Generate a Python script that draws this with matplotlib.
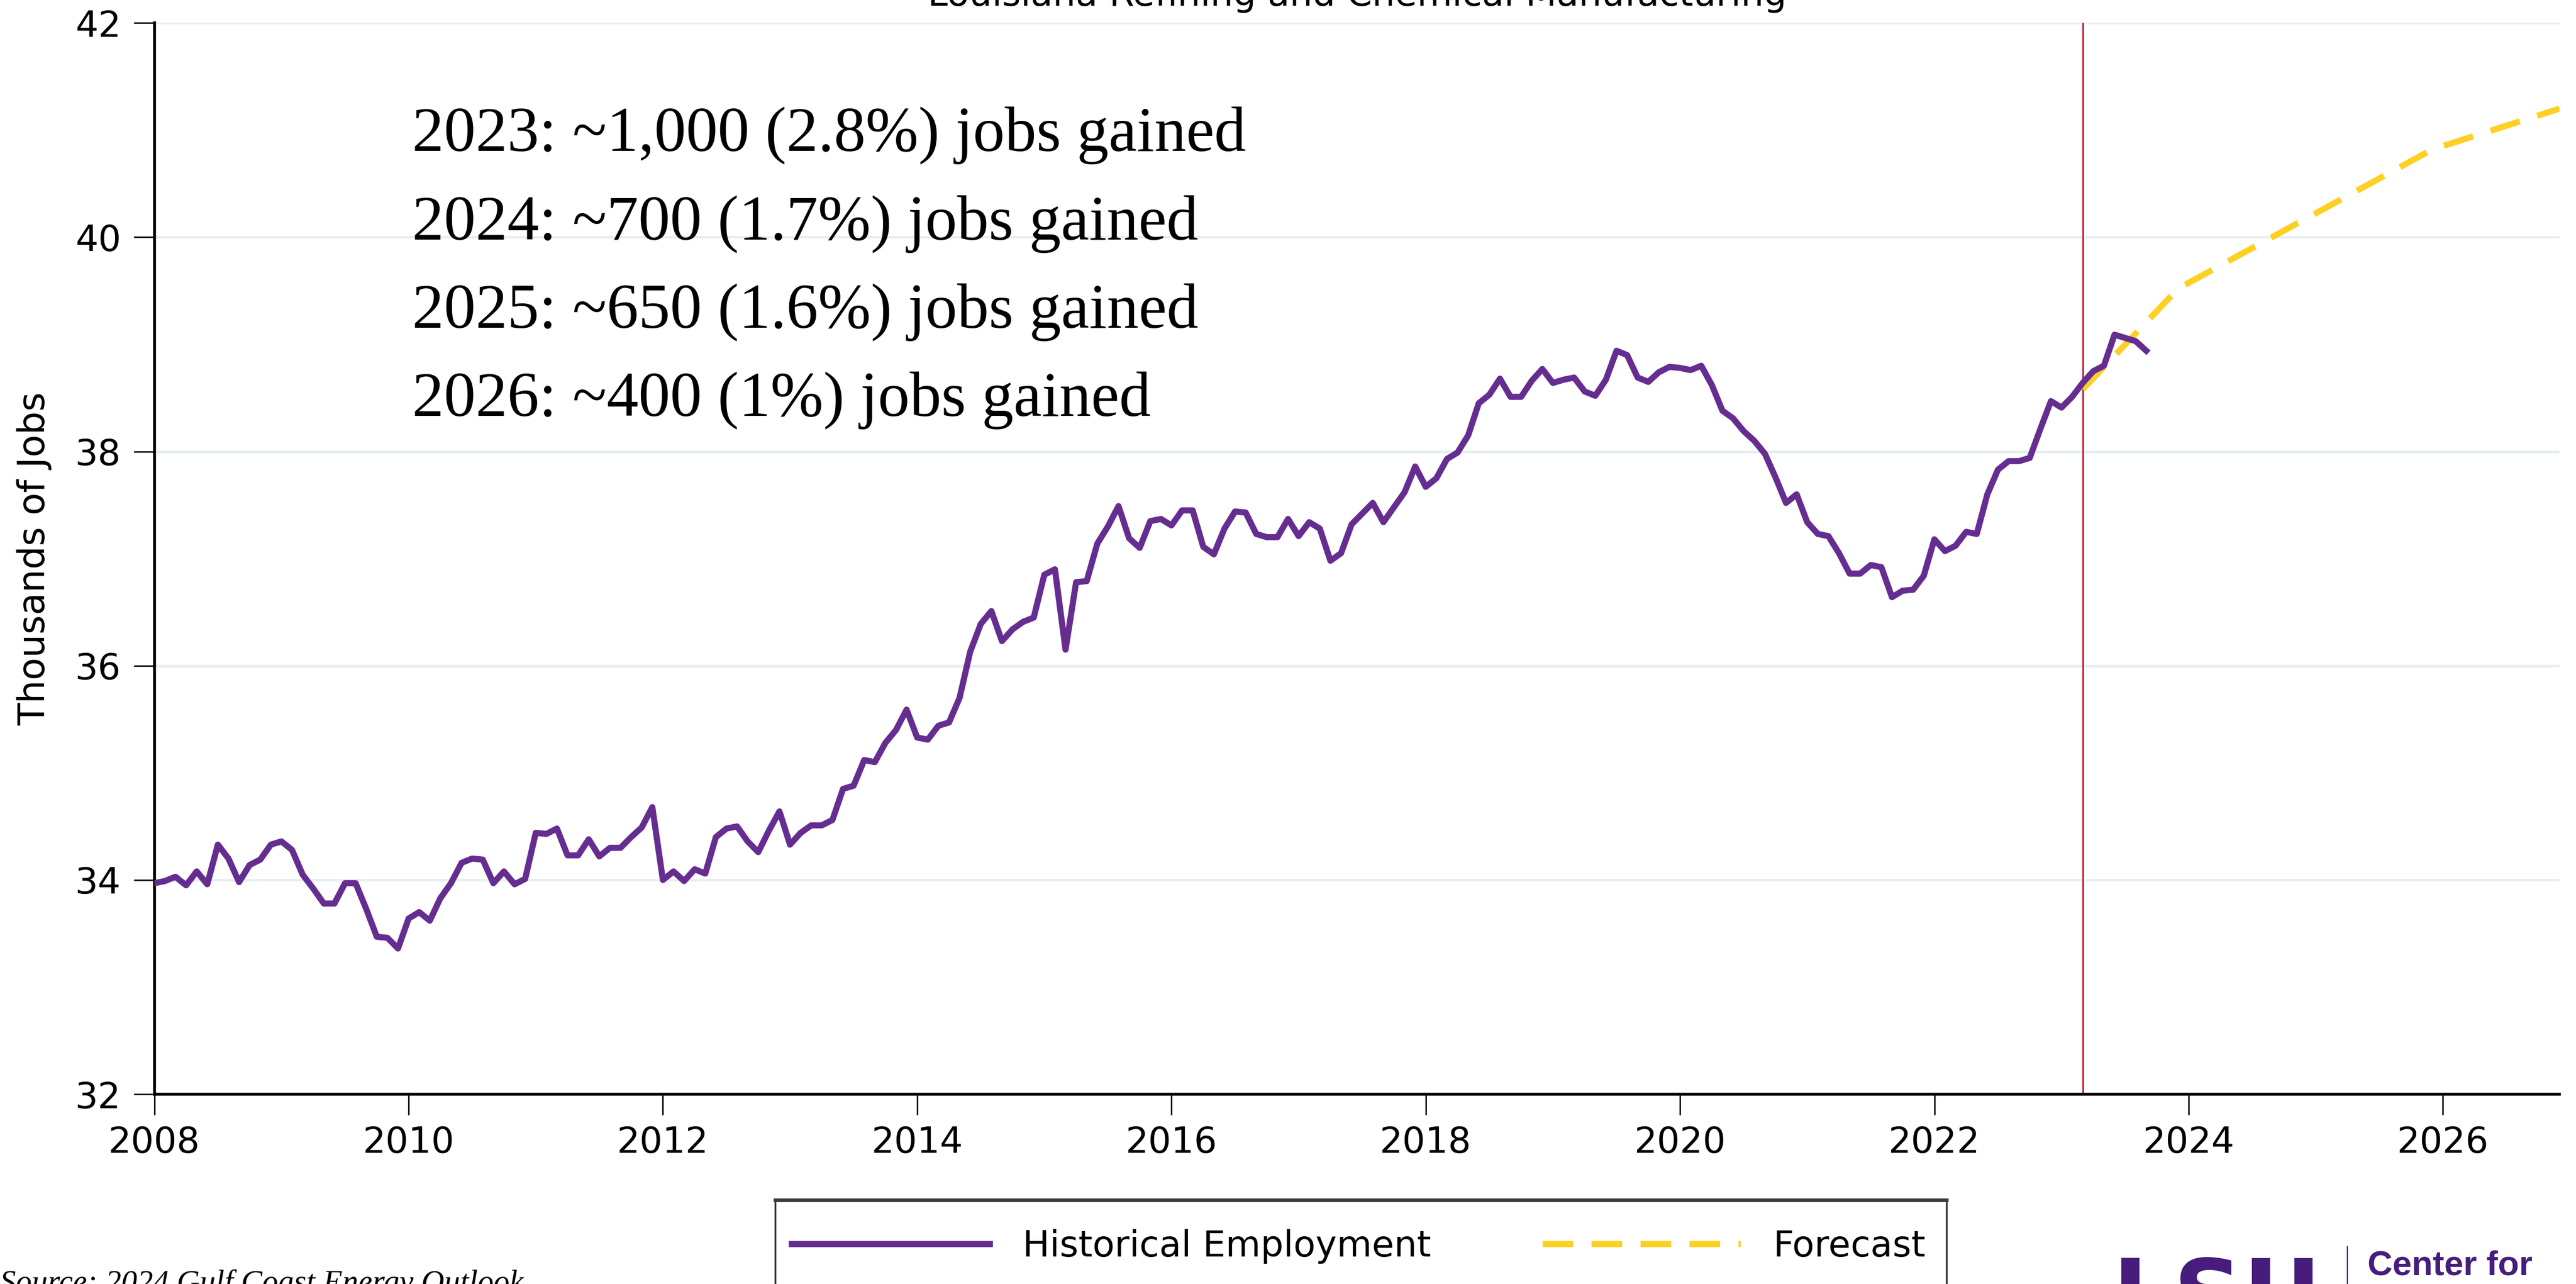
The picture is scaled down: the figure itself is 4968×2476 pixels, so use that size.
import numpy as np
import matplotlib
matplotlib.use("Agg")
import matplotlib.pyplot as plt
from matplotlib.lines import Line2D
from matplotlib.patches import Rectangle

# monthly historical employment (thousands), Jan 2008 - Sep 2023
emp_2008 = [33.97, 33.99, 34.03, 33.95, 34.08, 33.96, 34.33, 34.20, 33.98, 34.14, 34.19, 34.33]
emp_2009 = [34.36, 34.28, 34.05, 33.92, 33.78, 33.78, 33.97, 33.97, 33.73, 33.47, 33.46, 33.36]
emp_2010 = [33.64, 33.70, 33.62, 33.83, 33.97, 34.16, 34.20, 34.19, 33.97, 34.08, 33.96, 34.01]
emp_2011 = [34.44, 34.43, 34.48, 34.23, 34.23, 34.38, 34.22, 34.30, 34.30, 34.40, 34.49, 34.68]
emp_2012 = [34.00, 34.08, 33.99, 34.10, 34.06, 34.40, 34.48, 34.50, 34.36, 34.26, 34.46, 34.64]
emp_2013 = [34.33, 34.44, 34.51, 34.51, 34.56, 34.85, 34.88, 35.12, 35.10, 35.28, 35.40, 35.59]
emp_2014 = [35.33, 35.31, 35.44, 35.47, 35.70, 36.13, 36.39, 36.51, 36.23, 36.34, 36.41, 36.45]
emp_2015 = [36.85, 36.90, 36.15, 36.78, 36.79, 37.14, 37.30, 37.49, 37.19, 37.10, 37.35, 37.37]
emp_2016 = [37.31, 37.45, 37.45, 37.11, 37.04, 37.28, 37.44, 37.43, 37.23, 37.20, 37.20, 37.37]
emp_2017 = [37.21, 37.34, 37.28, 36.98, 37.05, 37.32, 37.42, 37.52, 37.34, 37.48, 37.62, 37.86]
emp_2018 = [37.67, 37.75, 37.93, 37.99, 38.15, 38.45, 38.53, 38.68, 38.51, 38.51, 38.66, 38.77]
emp_2019 = [38.64, 38.67, 38.69, 38.56, 38.52, 38.67, 38.94, 38.90, 38.69, 38.65, 38.74, 38.79]
emp_2020 = [38.78, 38.76, 38.80, 38.62, 38.38, 38.31, 38.19, 38.10, 37.98, 37.76, 37.52, 37.60]
emp_2021 = [37.34, 37.23, 37.21, 37.05, 36.86, 36.86, 36.94, 36.92, 36.64, 36.70, 36.71, 36.84]
emp_2022 = [37.18, 37.07, 37.12, 37.25, 37.23, 37.60, 37.83, 37.91, 37.91, 37.94, 38.21, 38.47]
emp_2023 = [38.41, 38.51, 38.64, 38.75, 38.80, 39.09, 39.06, 39.03, 38.94]

# forecast points (year, month) and values
fcst_months = [(2023, 3), (2023, 12), (2024, 12), (2025, 12), (2026, 12)]
fcst_values = [38.58, 39.52, 40.17, 40.82, 41.20]

forecast_start = (2023, 3)

notes = ["2023: ~1,000 (2.8%) jobs gained",
         "2024: ~700 (1.7%) jobs gained",
         "2025: ~650 (1.6%) jobs gained",
         "2026: ~400 (1%) jobs gained"]

x_ticks = [2008, 2010, 2012, 2014, 2016, 2018, 2020, 2022, 2024, 2026]
y_ticks = [32, 34, 36, 38, 40, 42]

purple = '#662D91'
gold = '#FDD023'
lsu_purple = '#461D7C'


def to_year(y, m):
    return y + (m - 1) / 12.0


hist = (emp_2008 + emp_2009 + emp_2010 + emp_2011 + emp_2012 + emp_2013 + emp_2014 + emp_2015
        + emp_2016 + emp_2017 + emp_2018 + emp_2019 + emp_2020 + emp_2021 + emp_2022 + emp_2023)
hist_x = 2008 + np.arange(len(hist)) / 12.0
fcst_x = [to_year(y, m) for y, m in fcst_months]

fig = plt.figure(figsize=(49.68, 24.76), dpi=100)
ax = fig.add_axes([0.0599, 0.1478, 0.9337, 0.8343])

ax.plot(fcst_x, fcst_values, color=gold, lw=8.5, dashes=(5, 3), zorder=3)
ax.plot(hist_x, hist, color=purple, lw=8.5, zorder=4)
ax.axvline(to_year(*forecast_start), color='#C8102E', lw=2.2, zorder=2)

ax.set_xlim(2008, to_year(2026, 12))
ax.set_ylim(32, 42)
ax.set_xticks(x_ticks)
ax.set_yticks(y_ticks)
ax.yaxis.grid(True, color='#E6EEF0', lw=3.5)
ax.set_axisbelow(True)

for s in ['top', 'right']:
    ax.spines[s].set_visible(False)
for s in ['left', 'bottom']:
    ax.spines[s].set_linewidth(4)

ax.tick_params(axis='both', length=29, width=2, direction='out', labelsize=50)
ax.tick_params(axis='y', pad=17)
ax.tick_params(axis='x', pad=14)

ax.set_title('Louisiana Refining and Chemical Manufacturing', fontsize=50, pad=24)
ax.set_ylabel('Thousands of Jobs', fontsize=51)
ax.yaxis.set_label_coords(-0.0424, 0.5)

# annotation block
note_y = [0.8825, 0.8134, 0.7447, 0.6761]
for txt, yy in zip(notes, note_y):
    fig.text(0.160, yy, txt, fontsize=88, family='Liberation Serif', va='baseline')

# legend (frame runs off the bottom edge)
handles = [Line2D([0], [0], color=purple, lw=8.5),
           Line2D([0], [0], color=gold, lw=8.5, dashes=(5, 3))]
fig.legend(handles, ['Historical Employment', 'Forecast'], loc='center left',
           bbox_to_anchor=(0.3074, 0.0291), ncol=2, frameon=False, fontsize=50,
           handlelength=5.5, handletextpad=0.9, columnspacing=3.1,
           borderpad=0, borderaxespad=0)
fig.add_artist(Rectangle((0.3009, -0.05), 0.4547, 0.1158, transform=fig.transFigure,
                         fill=False, ec='#333333', lw=2.5))
fig.add_artist(Line2D([0.3009, 0.7556], [0.0655, 0.0655], transform=fig.transFigure,
                      color='#3a3a3a', lw=5))

fig.text(0.0, -0.006, 'Source: 2024 Gulf Coast Energy Outlook', fontsize=44,
         family='Liberation Serif', style='italic', va='baseline')

# logo
fig.text(0.8200, -0.0343, 'LSU', fontsize=134, weight='heavy', color=lsu_purple,
         family='DejaVu Sans', va='baseline')
fig.add_artist(Line2D([0.9112, 0.9112], [0.0, 0.029], transform=fig.transFigure,
                      color=lsu_purple, lw=1.5))
fig.text(0.9191, 0.0069, 'Center for', fontsize=48, weight='bold', color=lsu_purple,
         family='Liberation Sans', va='baseline')

fig.savefig('out.png', dpi=100)
